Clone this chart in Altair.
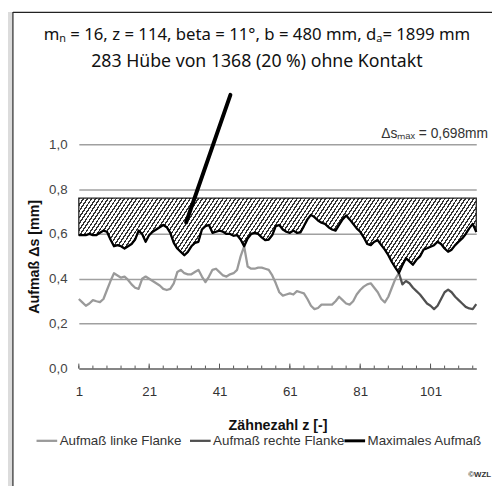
import altair as alt
import pandas as pd

# ---------------- data ----------------
SERIES = ["Aufmaß linke Flanke", "Aufmaß rechte Flanke", "Maximales Aufmaß"]
SERIES_COLORS = ["#9a9a9a", "#505050", "#000000"]

max_z = list(range(1, 115))
max_aufmass = [
    0.595, 0.595, 0.595, 0.600, 0.595, 0.595, 0.605, 0.615, 0.610, 0.575,
    0.545, 0.550, 0.545, 0.535, 0.545, 0.555, 0.575, 0.615, 0.600, 0.565,
    0.595, 0.610, 0.620, 0.630, 0.640, 0.630, 0.605, 0.560, 0.535, 0.520,
    0.505, 0.520, 0.545, 0.560, 0.565, 0.620, 0.635, 0.640,
    0.605, 0.610, 0.615, 0.610, 0.600, 0.600, 0.592, 0.595, 0.575, 0.545,
    0.580, 0.600, 0.605, 0.600, 0.585, 0.572, 0.575, 0.595, 0.635, 0.640,
    0.620, 0.610, 0.605, 0.615, 0.605, 0.607, 0.635, 0.665, 0.685, 0.675,
    0.660, 0.650, 0.645, 0.630, 0.620, 0.615,
    0.640, 0.665, 0.682, 0.665, 0.645, 0.625, 0.610, 0.585, 0.555, 0.550,
    0.565, 0.572, 0.550, 0.530, 0.505, 0.475, 0.450, 0.426, 0.460, 0.492,
    0.478, 0.463, 0.485, 0.500, 0.530, 0.536, 0.543, 0.550, 0.565, 0.555,
    0.535, 0.521, 0.530, 0.550, 0.565, 0.580, 0.600, 0.625, 0.645, 0.609,
]

linke_z = list(range(1, 93))
linke = [
    0.310, 0.295, 0.280, 0.290, 0.305, 0.300, 0.296, 0.310, 0.350, 0.390,
    0.425, 0.415, 0.405, 0.410, 0.395, 0.375, 0.360, 0.355, 0.400, 0.410,
    0.400, 0.390, 0.380, 0.370, 0.355, 0.350, 0.355, 0.380, 0.430, 0.440,
    0.425, 0.420, 0.420, 0.430, 0.440, 0.410, 0.385, 0.410, 0.440, 0.445,
    0.430, 0.415, 0.410, 0.420, 0.425, 0.440, 0.500, 0.545,
    0.455, 0.445, 0.445, 0.450, 0.450, 0.445, 0.440, 0.415, 0.380, 0.340,
    0.325, 0.330, 0.335, 0.330, 0.345, 0.340, 0.335, 0.310, 0.280, 0.265,
    0.270, 0.285, 0.285, 0.285, 0.285, 0.300, 0.320, 0.305, 0.290, 0.285,
    0.300, 0.330, 0.350, 0.365, 0.375, 0.380, 0.360, 0.340, 0.310, 0.295,
    0.320, 0.360, 0.400, 0.426,
]

rechte_z = list(range(92, 115))
rechte = [
    0.426, 0.375, 0.390, 0.380, 0.360, 0.345, 0.330, 0.310, 0.290, 0.280,
    0.265, 0.280, 0.310, 0.340, 0.352, 0.340, 0.320, 0.305, 0.290, 0.275,
    0.268, 0.265, 0.287,
]

hatch_top = 0.76
x_label_values = [1, 21, 41, 61, 81, 101]
x_minor_ticks = [1, 5, 9, 13, 17, 21, 25, 29, 33, 37, 41, 45, 49, 53, 57, 61,
                 65, 69, 73, 77, 81, 85, 89, 93, 97, 101, 105, 109, 113]
y_values = [0.0, 0.2, 0.4, 0.6, 0.8, 1.0]
arrow_start = (44.1, 1.22)
arrow_end = (31.5, 0.651)

TITLE1 = "mₙ = 16, z = 114, beta = 11°, b = 480 mm, dₐ= 1899 mm"
TITLE2 = "283 Hübe von 1368 (20 %) ohne Kontakt"
DSMAX = "Δsₘₐₓ = 0,698mm"
COPY = "©WZL"
X_TITLE = "Zähnezahl z [-]"
Y_TITLE = "Aufmaß Δs [mm]"

# ---------------- tables ----------------
df_max = pd.DataFrame({"z": max_z, "v": max_aufmass, "top": hatch_top})
df_lines = pd.concat([
    pd.DataFrame({"z": linke_z, "v": linke, "series": SERIES[0]}),
    pd.DataFrame({"z": rechte_z, "v": rechte, "series": SERIES[1]}),
    pd.DataFrame({"z": max_z, "v": max_aufmass, "series": SERIES[2]}),
])
df_ticks = pd.DataFrame({"z": x_minor_ticks, "base": 0.0})
df_major = pd.DataFrame({"z": x_label_values, "base": 0.0})
df_arrow = pd.DataFrame({"z": [arrow_start[0]], "v": [arrow_start[1]],
                         "z2": [arrow_end[0]], "v2": [arrow_end[1]]})

W, H = 404, 228
LABEL_FONT = "Liberation Sans"
TITLE_FONT = "Noto Sans"

xs = alt.Scale(domain=[1, 114], nice=False, zero=False)
ys = alt.Scale(domain=[0, 1.0], nice=False, zero=True)

x_axis = alt.Axis(values=x_label_values, title=X_TITLE, grid=False, ticks=False,
                  domainColor="#555555", domainWidth=1.2,
                  labelFont=LABEL_FONT, labelFontSize=13.5, labelColor="#333333",
                  labelPadding=16, labelFlush=False,
                  titleFont=LABEL_FONT, titleFontSize=14.5, titleFontWeight="bold",
                  titleColor="#111111", titleY=57.5, titleBaseline="middle")
y_axis = alt.Axis(values=y_values, title=Y_TITLE, grid=True, gridColor="#a0a0a0",
                  gridWidth=1.5, domain=False, ticks=False,
                  labelExpr="replace(format(datum.value, '.1f'), '.', ',')",
                  labelFont=LABEL_FONT, labelFontSize=13.5, labelColor="#444444",
                  labelPadding=12,
                  titleFont=LABEL_FONT, titleFontSize=14.5, titleFontWeight="bold",
                  titleColor="#111111", titleX=-45, titleY=H / 2, titleAngle=270,
                  titleAlign="center", titleBaseline="middle")


def X(field):
    return alt.X(field, type="quantitative", scale=xs, axis=x_axis)


def Y(field):
    return alt.Y(field, type="quantitative", scale=ys, axis=y_axis)


# hatch pattern as a striped linear gradient
n_stripes = 110
stops = []
for k in range(n_stripes):
    a = round(k / n_stripes, 5)
    b = round((k + 0.38) / n_stripes, 5)
    c = round((k + 1) / n_stripes, 5)
    stops += [alt.GradientStop(offset=a, color="#333333"),
              alt.GradientStop(offset=b, color="#333333"),
              alt.GradientStop(offset=b, color="#ffffff"),
              alt.GradientStop(offset=min(c, 1.0), color="#ffffff")]
hatch = alt.LinearGradient(gradient="linear", stops=stops, x1=0, y1=0, x2=1.12, y2=0.139)

area = alt.Chart(df_max).mark_area(fill=hatch, stroke="#222222", strokeWidth=1.3).encode(
    x=X("z"), y=Y("v"), y2="top:Q")

lines = alt.Chart(df_lines).mark_line(strokeJoin="round").encode(
    x=X("z"), y=Y("v"),
    color=alt.Color("series:N", scale=alt.Scale(domain=SERIES, range=SERIES_COLORS), legend=None),
    strokeWidth=alt.StrokeWidth("series:N", scale=alt.Scale(domain=SERIES, range=[2.3, 2.3, 3.0]),
                                legend=None),
)

minor = alt.Chart(df_ticks).mark_rule(color="#555555", strokeWidth=1).encode(
    x=X("z"), y=Y("base"), y2=alt.value(H - 3))
major = alt.Chart(df_major).mark_rule(color="#555555", strokeWidth=1).encode(
    x=X("z"), y=Y("base"), y2=alt.value(H - 5))

arrow = alt.Chart(df_arrow).mark_rule(color="#000000", strokeWidth=4, strokeCap="round").encode(
    x=X("z"), y=Y("v"), x2="z2:Q", y2="v2:Q")

one = pd.DataFrame({"k": [0]})

# frame of the picture
frame_strip = alt.Chart(one).mark_rect(color="#dcdcdc").encode(
    x=alt.value(-72), x2=alt.value(-67.5), y=alt.value(-134.5), y2=alt.value(347.5))
frame_left = alt.Chart(one).mark_rule(color="#222222", strokeWidth=1.2).encode(
    x=alt.value(-67), y=alt.value(-134.5), y2=alt.value(347.5))
frame_top = alt.Chart(one).mark_rule(color="#222222", strokeWidth=1.2).encode(
    x=alt.value(-67), x2=alt.value(420), y=alt.value(-134))


def text_layer(txt, x, y, size, font, align="center", color="#111111", weight="normal"):
    return alt.Chart(pd.DataFrame({"t": [txt]})).mark_text(
        align=align, baseline="alphabetic", font=font, fontSize=size, color=color,
        fontWeight=weight).encode(text="t:N", x=alt.value(x), y=alt.value(y))


# legend (drawn by hand to match the spacing of the reference)
LEG_Y = 301.5
leg_layers = []
for name, col, sw, x0 in zip(SERIES, SERIES_COLORS, [2.3, 2.3, 3.0], [-43, 113, 270]):
    leg_layers.append(alt.Chart(one).mark_rule(color=col, strokeWidth=sw).encode(
        x=alt.value(x0), x2=alt.value(x0 + 21), y=alt.value(LEG_Y)))
    leg_layers.append(alt.Chart(pd.DataFrame({"t": [name]})).mark_text(
        align="left", baseline="middle", font=LABEL_FONT, fontSize=13.6, color="#333333").encode(
        text="t:N", x=alt.value(x0 + 23.5), y=alt.value(LEG_Y + 0.5)))

t1 = text_layer(TITLE1, 181, -106, 17, TITLE_FONT)
t2 = text_layer(TITLE2, 181, -78.5, 18, TITLE_FONT)
t3 = text_layer(DSMAX, 416, -6, 14, LABEL_FONT, align="right", color="#333333")
t4 = text_layer(COPY, 419, 338, 8, LABEL_FONT, align="right", color="#333333", weight="bold")

chart = alt.layer(
    frame_strip, frame_left, frame_top, area, lines, minor, major, arrow,
    *leg_layers, t1, t2, t3, t4
).properties(
    width=W, height=H,
    autosize=alt.AutoSizeParams(type="none"),
    padding={"left": 72, "top": 134.5, "right": 16, "bottom": 119.5},
    background="#ffffff",
).configure_view(stroke=None)

chart.save("out.html", embed_options={"renderer": "svg", "actions": False})
